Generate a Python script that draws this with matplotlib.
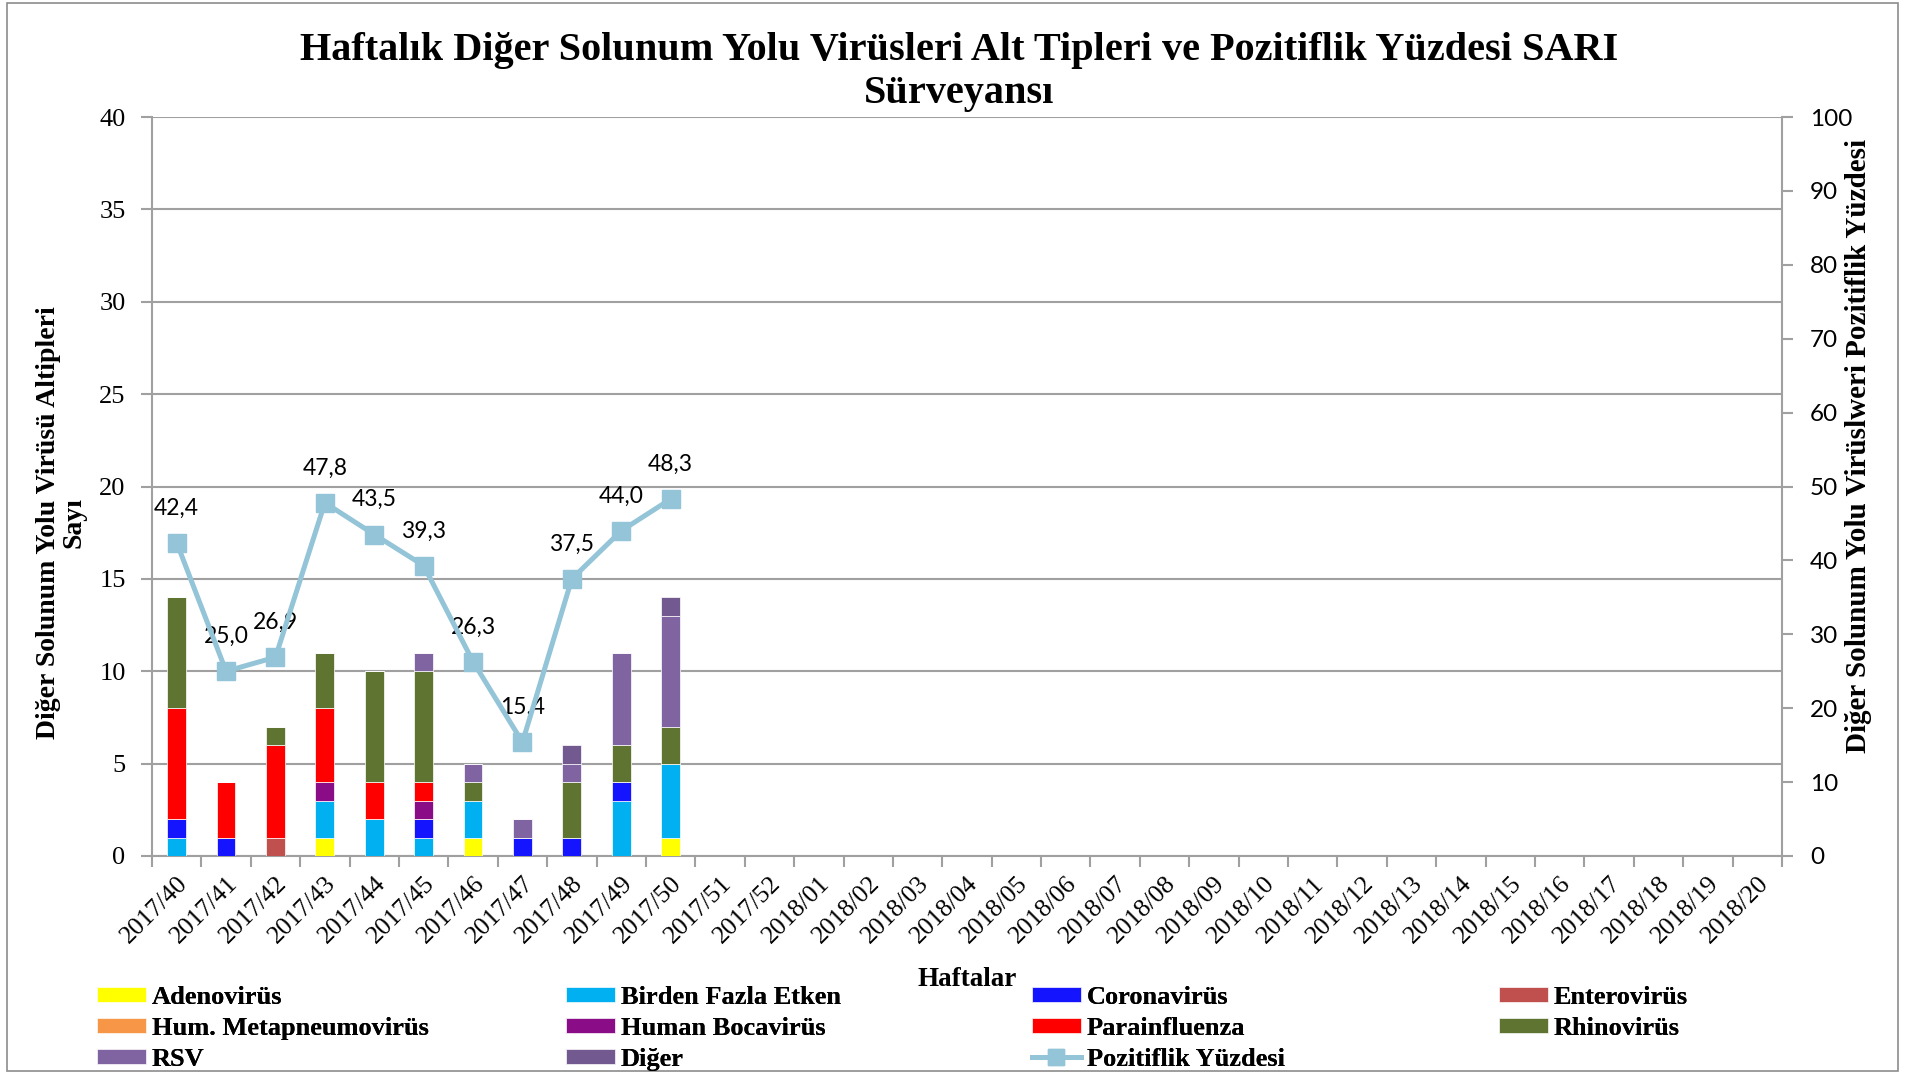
import matplotlib.pyplot as plt
import matplotlib.transforms as mtransforms
import numpy as np
from matplotlib.lines import Line2D
from matplotlib.patches import Rectangle

# week categories on the x axis
weeks = [
    "2017/40", "2017/41", "2017/42", "2017/43", "2017/44", "2017/45", "2017/46",
    "2017/47", "2017/48", "2017/49", "2017/50", "2017/51", "2017/52",
    "2018/01", "2018/02", "2018/03", "2018/04", "2018/05", "2018/06", "2018/07",
    "2018/08", "2018/09", "2018/10", "2018/11", "2018/12", "2018/13", "2018/14",
    "2018/15", "2018/16", "2018/17", "2018/18", "2018/19", "2018/20",
]

# counts per virus for the weeks with data (2017/40 .. 2017/50)
adeno = [0, 0, 0, 1, 0, 0, 1, 0, 0, 0, 1]
birden = [1, 0, 0, 2, 2, 1, 2, 0, 0, 3, 4]
corona = [1, 1, 0, 0, 0, 1, 0, 1, 1, 1, 0]
entero = [0, 0, 1, 0, 0, 0, 0, 0, 0, 0, 0]
hmpv = [0, 0, 0, 0, 0, 0, 0, 0, 0, 0, 0]
bocav = [0, 0, 0, 1, 0, 1, 0, 0, 0, 0, 0]
parainf = [6, 3, 5, 4, 2, 1, 0, 0, 0, 0, 0]
rhino = [6, 0, 1, 3, 6, 6, 1, 0, 3, 2, 2]
rsv = [0, 0, 0, 0, 0, 1, 1, 1, 1, 5, 6]
diger = [0, 0, 0, 0, 0, 0, 0, 0, 1, 0, 1]

positivity = [42.4, 25.0, 26.9, 47.8, 43.5, 39.3, 26.3, 15.4, 37.5, 44.0, 48.3]

series = [
    ("Adenovirüs", adeno, "#FFFF00"),
    ("Birden Fazla Etken", birden, "#00B0F0"),
    ("Coronavirüs", corona, "#1414FF"),
    ("Enterovirüs", entero, "#C0504D"),
    ("Hum. Metapneumovirüs", hmpv, "#F79646"),
    ("Human Bocavirüs", bocav, "#8B0C87"),
    ("Parainfluenza", parainf, "#FF0000"),
    ("Rhinovirüs", rhino, "#607431"),
    ("RSV", rsv, "#8064A2"),
    ("Diğer", diger, "#725990"),
]

SERIF = "Liberation Serif"
SANS = "Lato"
GRID = "#A0A0A0"
LINE_C = "#93C4D7"

W, H = 1908, 1073
fig = plt.figure(figsize=(W / 100, H / 100), dpi=100)
fig.add_artist(Rectangle((7 / W, 2 / H), 1891 / W, 1068 / H, transform=fig.transFigure,
                         fill=False, edgecolor="#8C8C8C", linewidth=1.2))

ax = fig.add_axes([152 / W, 1 - 856 / H, (1782 - 152) / W, (856 - 117) / H])
x = np.arange(len(positivity))
bottom = np.zeros(len(positivity))
handles = {}
for name, vals, col in series:
    vals = np.array(vals, dtype=float)
    bars = ax.bar(x, vals, 0.38, bottom=bottom, color=col, edgecolor="white",
                  linewidth=0.5, zorder=3)
    handles[name] = bars
    bottom += vals

ax.set_xlim(-0.5, len(weeks) - 0.5)
ax.set_ylim(0, 40)
ax.set_yticks(np.arange(0, 41, 5))
ax.yaxis.grid(True, color=GRID, linewidth=1.5, zorder=0)
ax.set_axisbelow(True)
ax.set_xticks(np.arange(len(weeks) + 1) - 0.5)
ax.set_xticklabels([])
ax.set_xticks(np.arange(len(weeks)), minor=True)
ax.set_xticklabels(weeks, minor=True, rotation=45, ha="right", va="top",
                   rotation_mode="anchor", fontfamily=SERIF, fontsize=18.5)
shift = mtransforms.ScaledTranslation(-4 / 100, -4 / 100, fig.dpi_scale_trans)
for lab in ax.get_xticklabels(minor=True):
    lab.set_transform(lab.get_transform() + shift)
ax.tick_params(axis="x", which="major", length=8, width=1.5, color=GRID)
ax.tick_params(axis="x", which="minor", length=0, pad=12)
ax.tick_params(axis="y", length=8, width=1.5, color=GRID, pad=11)
for lab in ax.get_yticklabels():
    lab.set_fontfamily(SERIF)
    lab.set_fontsize(19)
for s in ["left", "bottom", "right"]:
    ax.spines[s].set_color(GRID)
    ax.spines[s].set_linewidth(1.5)
ax.spines["top"].set_visible(False)

ax2 = ax.twinx()
ax2.set_ylim(0, 100)
ax2.set_yticks(np.arange(0, 101, 10))
ax2.tick_params(axis="y", length=8, width=1.5, color=GRID, pad=12)
for lab in ax2.get_yticklabels():
    lab.set_fontfamily(SANS)
    lab.set_fontsize(17.5)
for s in ["left", "bottom", "right", "top"]:
    ax2.spines[s].set_visible(False)
ax2.plot(x, positivity, color=LINE_C, linewidth=3.6, marker="s", markersize=13, zorder=5)
for xi, v in zip(x, positivity):
    ax2.annotate(f"{v:.1f}".replace(".", ","), (xi, v), xytext=(0, 25),
                 textcoords="offset points", ha="center", va="center",
                 fontfamily=SANS, fontsize=16.5)

fig.text(959 / W, 1 - 72 / H,
         "Haftalık Diğer Solunum Yolu Virüsleri Alt Tipleri ve Pozitiflik Yüzdesi SARI\nSürveyansı",
         ha="center", va="center", fontfamily=SERIF, fontweight="bold", fontsize=29,
         linespacing=1.2)
fig.text(61 / W, 1 - 523 / H, "Diğer Solunum Yolu Virüsü Altipleri\nSayı", rotation=90,
         ha="center", va="center", multialignment="center", fontfamily=SERIF,
         fontweight="bold", fontsize=20, linespacing=1.0)
fig.text(1859 / W, 1 - 446 / H, "Diğer Solunum Yolu Virüslweri Pozitiflik Yüzdesi",
         rotation=90, ha="center", va="center", fontfamily=SERIF, fontweight="bold",
         fontsize=21)
fig.text(967 / W, 1 - 980 / H, "Haftalar", ha="center", va="center", fontfamily=SERIF,
         fontweight="bold", fontsize=19.5)

line_handle = Line2D([], [], color=LINE_C, linewidth=3.6, marker="s", markersize=11)
columns = [
    (97, ["Adenovirüs", "Hum. Metapneumovirüs", "RSV"]),
    (566, ["Birden Fazla Etken", "Human Bocavirüs", "Diğer"]),
    (1032, ["Coronavirüs", "Parainfluenza", "Pozitiflik Yüzdesi"]),
    (1499, ["Enterovirüs", "Rhinovirüs"]),
]
for cx, names in columns:
    hs = [line_handle if n == "Pozitiflik Yüzdesi" else handles[n] for n in names]
    leg = fig.legend(hs, names, loc="upper left", bbox_to_anchor=(cx / W, 1 - 986 / H),
                     frameon=False, borderpad=0, borderaxespad=0, handlelength=1.85,
                     handleheight=0.5, handletextpad=0.22, labelspacing=0.3,
                     prop={"family": SERIF, "weight": "bold", "size": 19})
    fig.add_artist(leg)

fig.savefig("out.png", dpi=100)
